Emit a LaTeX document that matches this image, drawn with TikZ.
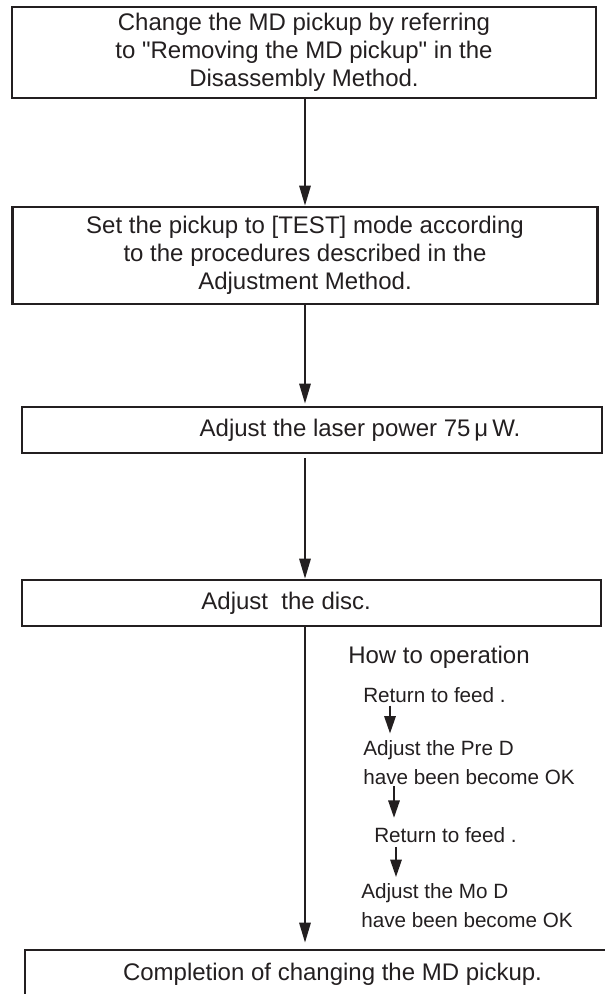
\documentclass[tikz,border=0pt]{standalone}
\usepackage{fontspec}
\setmainfont{Liberation Sans}
\usepackage{xcolor}
\usetikzlibrary{positioning, arrows.meta}
\definecolor{ink}{HTML}{231F20}

\begin{document}
\begin{tikzpicture}[
    x=0.75pt, y=-0.75pt,
    box/.style={draw=ink, line width=2pt, inner sep=0pt, align=center, text=ink, font=\fontsize{18}{21}\selectfont},
    note/.style={anchor=west, inner sep=0pt, align=left, text=ink, font=\fontsize{15.5}{21.75}\selectfont},
    flow/.style={draw=ink, line width=1.5pt, -{Triangle[length=15pt, width=8.5pt]}},
    sub/.style={draw=ink, line width=1.5pt, -{Triangle[length=13pt, width=8.5pt]}},
]
\useasboundingbox (0,0) rectangle (605,994);
\clip (0,0) rectangle (605,994);
\coordinate (spine) at (305,0);

\node[box, minimum width=438pt, minimum height=68.25pt] (b1) at (304,52.5)
    {Change the MD pickup by referring\\to \textquotedbl Removing the MD pickup\textquotedbl{} in the\\Disassembly Method.};
\node[box, minimum width=438.75pt, minimum height=72.75pt] (b2) at (305,255.5)
    {Set the pickup to [TEST] mode according\\to the procedures described in the\\Adjustment Method.};
\node[box, minimum width=435pt, minimum height=34.5pt] (b3) at (312,430)
    {\hspace*{72pt}Adjust the laser power 75\,μ\,W.};
\node[box, minimum width=434.25pt, minimum height=34.5pt] (b4) at (311.5,603)
    {Adjust\ \ the disc.\hspace*{38pt}};
\node[box, minimum width=461.25pt, minimum height=36pt] (b5) at (332.5,974)
    {Completion of changing the MD pickup.};

\draw[flow] (b1.south -| spine) -- (b2.north -| spine);
\draw[flow, shorten >=1.5pt] (b2.south -| spine) -- (b3.north -| spine);
\draw[flow, shorten <=3pt] (b3.south -| spine) -- (b4.north -| spine);
\draw[flow, shorten >=4.5pt] (b4.south -| spine) -- (b5.north -| spine);

% how to operation
\node[note, font=\fontsize{18}{21}\selectfont] (op) at (348,657) {How to operation};
\node[note] (r1) at (363,695) {Return to feed .};
\node[note] (pre) at (363,762.5) {Adjust the Pre D\\have been become OK};
\node[note] (r2) at (374,835) {Return to feed .};
\node[note] (mo) at (361,906) {Adjust the Mo D\\have been become OK};

\draw[sub, shorten <=2pt, shorten >=5pt] ([xshift=20.25pt]r1.south west) -- ([xshift=20.25pt]r1.south west |- pre.north);
\draw[sub, shorten <=1pt, shorten >=7pt] ([xshift=23.25pt]pre.south west) -- ([xshift=23.25pt]pre.south west |- r2.north);
\draw[sub, shorten <=3pt, shorten >=5pt] ([xshift=16.5pt]r2.south west) -- ([xshift=16.5pt]r2.south west |- mo.north);
\end{tikzpicture}
\end{document}
